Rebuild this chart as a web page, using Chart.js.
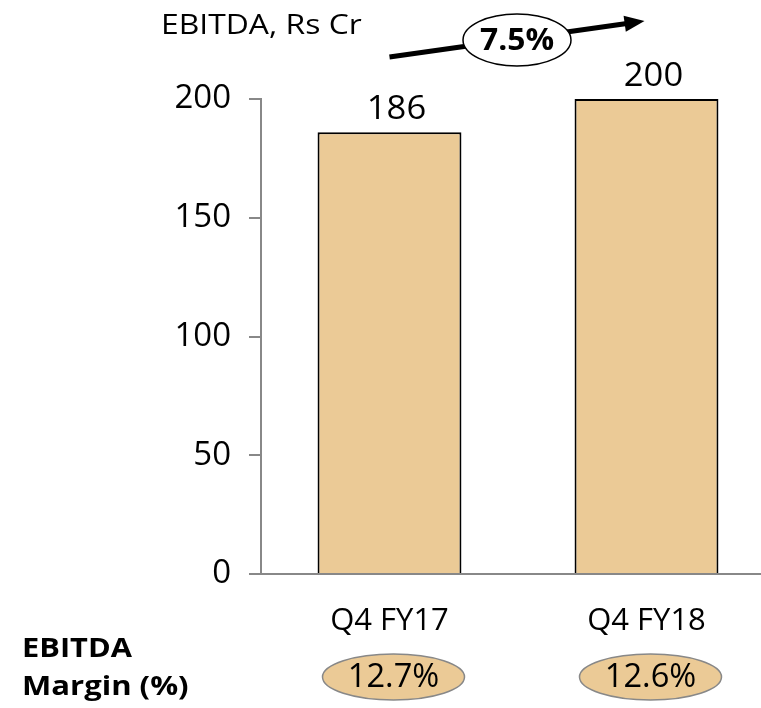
<!DOCTYPE html>
<html>
<head>
<meta charset="utf-8">
<script src="https://cdn.jsdelivr.net/npm/chart.js@4"></script>
<style>
  html, body { margin: 0; padding: 0; background: #fff; overflow: hidden; }
  #wrap { width: 800px; height: 708px; }
</style>
</head>
<body>
<div id="wrap"><canvas id="chart" width="800" height="708"></canvas></div>
<script>
const categories = ['Q4 FY17', 'Q4 FY18'];
const ebitda     = [186, 200];
const margins    = ['12.7%', '12.6%'];
const growth     = '7.5%';
const yTicks     = [0, 50, 100, 150, 200];

const FONT   = '"Open Sans", "Noto Sans", sans-serif';
const TAN    = '#EBCA96';
const GREY   = '#888888';

// the source text is a bit wider than Open Sans, stretch it a little
function wideText(ctx, txt, x, y, sx) {
  ctx.save();
  ctx.translate(x, y);
  ctx.scale(sx || 1.15, 1);
  ctx.fillText(txt, 0, 0);
  ctx.restore();
}

const overlay = {
  id: 'overlay',
  afterDatasetsDraw(chart) {
    const { ctx, scales: { x, y } } = chart;
    const meta = chart.getDatasetMeta(0);
    ctx.save();
    ctx.fillStyle = '#000';
    ctx.textAlign = 'center';
    ctx.textBaseline = 'alphabetic';

    // value labels over bars (sit a touch right of centre in the source)
    ctx.font = `32px ${FONT}`;
    meta.data.forEach((bar, i) => {
      wideText(ctx, String(ebitda[i]), bar.x + 7, bar.y - 13, 1.08);
    });

    // title
    ctx.textAlign = 'left';
    ctx.font = `27px ${FONT}`;
    wideText(ctx, 'EBITDA, Rs Cr', 161, 34, 1.18);

    // growth arrow
    const x0 = x.getPixelForValue(0), x1 = x.getPixelForValue(1) - 2;
    const y0 = chart.chartArea.top - 42, y1 = chart.chartArea.top - 78;
    const ang = Math.atan2(y1 - y0, x1 - x0);
    ctx.strokeStyle = '#000';
    ctx.lineWidth = 5;
    ctx.beginPath();
    ctx.moveTo(x0, y0);
    ctx.lineTo(x1 - 16 * Math.cos(ang), y1 - 16 * Math.sin(ang));
    ctx.stroke();
    ctx.beginPath();
    ctx.moveTo(x1, y1);
    ctx.lineTo(x1 - 20 * Math.cos(ang) + 8 * Math.sin(ang), y1 - 20 * Math.sin(ang) - 8 * Math.cos(ang));
    ctx.lineTo(x1 - 20 * Math.cos(ang) - 8 * Math.sin(ang), y1 - 20 * Math.sin(ang) + 8 * Math.cos(ang));
    ctx.closePath();
    ctx.fill();

    const mx = (x0 + x1) / 2, my = (y0 + y1) / 2 + 1;
    ctx.beginPath();
    ctx.ellipse(mx, my, 54, 26, 0, 0, Math.PI * 2);
    ctx.fillStyle = '#fff';
    ctx.fill();
    ctx.lineWidth = 1.5;
    ctx.stroke();
    ctx.fillStyle = '#000';
    ctx.textAlign = 'center';
    ctx.textBaseline = 'middle';
    ctx.font = `bold 30px ${FONT}`;
    wideText(ctx, growth, mx, my + 1, 1.06);

    // margin ellipses
    ctx.font = `32px ${FONT}`;
    margins.forEach((m, i) => {
      const cx = x.getPixelForValue(i) + 4, cy = 677;
      ctx.beginPath();
      ctx.ellipse(cx, cy, 71, 23, 0, 0, Math.PI * 2);
      ctx.fillStyle = TAN;
      ctx.fill();
      ctx.strokeStyle = GREY;
      ctx.lineWidth = 1.5;
      ctx.stroke();
      ctx.fillStyle = '#000';
      wideText(ctx, m, cx, cy + 1, 1.02);
    });

    // row label
    ctx.textAlign = 'left';
    ctx.textBaseline = 'alphabetic';
    ctx.font = `bold 27px ${FONT}`;
    wideText(ctx, 'EBITDA', 22, 657, 1.14);
    wideText(ctx, 'Margin (%)', 22, 695, 1.15);
    ctx.restore();
  }
};

new Chart(document.getElementById('chart'), {
  type: 'bar',
  data: {
    labels: categories,
    datasets: [{
      data: ebitda,
      backgroundColor: TAN,
      borderColor: '#000',
      borderWidth: 2,
      borderSkipped: 'bottom',
      categoryPercentage: 0.8,
      barPercentage: 0.7,
    }],
  },
  options: {
    responsive: false,
    animation: false,
    layout: { padding: { left: 0, right: 25, top: 99, bottom: 0 } },
    plugins: { legend: { display: false }, tooltip: { enabled: false } },
    scales: {
      x: {
        grid: { drawOnChartArea: false, drawTicks: false },
        border: { color: GREY, width: 2 },
        ticks: { color: '#000', font: { family: FONT, size: 31 }, padding: 29 },
        afterFit: s => { s.height = 134; },
      },
      y: {
        min: 0,
        max: 200,
        afterBuildTicks: s => { s.ticks = yTicks.map(v => ({ value: v })); },
        grid: { drawOnChartArea: false, drawTicks: true, tickLength: 12, color: GREY, lineWidth: 2 },
        border: { color: GREY, width: 2 },
        ticks: { color: '#000', font: { family: FONT, size: 33 }, padding: 18 },
        afterFit: s => { s.width = 261; },
      },
    },
  },
  plugins: [overlay],
});
</script>
</body>
</html>
